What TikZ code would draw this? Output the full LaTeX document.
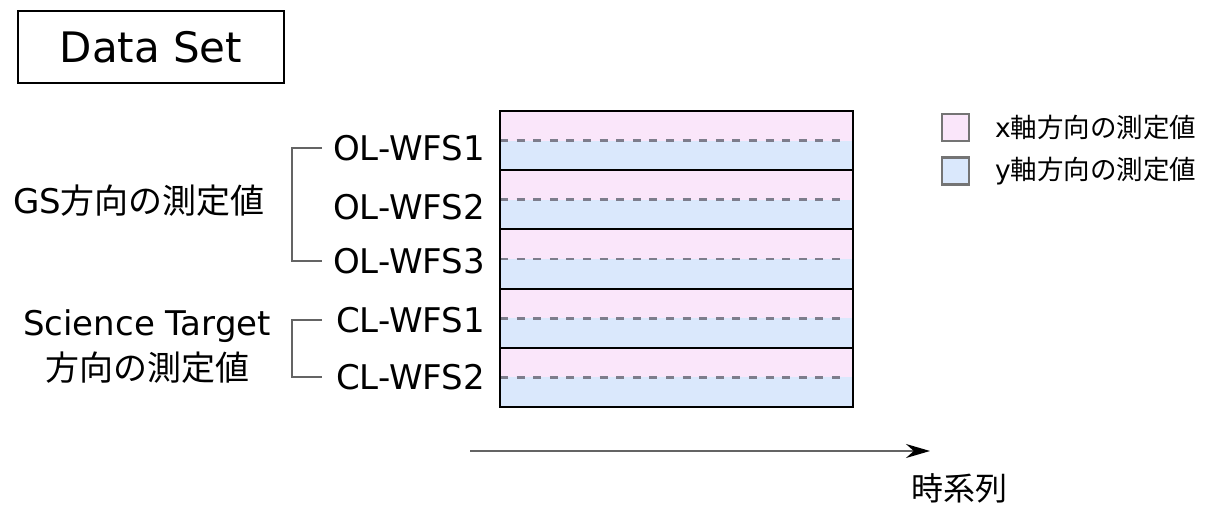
\documentclass[tikz,border=0pt]{standalone}
\usepackage{fontspec}
\setmainfont{DejaVu Sans}
\newfontfamily\jp{Noto Sans CJK JP}
\usetikzlibrary{arrows.meta}
\definecolor{xpink}{RGB}{250,230,250}
\definecolor{yblue}{RGB}{218,232,252}
\definecolor{dashgray}{RGB}{125,125,140}
\definecolor{brgray}{RGB}{100,100,100}

\begin{document}
\begin{tikzpicture}[x=1pt, y=-1pt,
        wfs/.style = {anchor=east, inner sep=2pt, font=\fontsize{34}{40}\selectfont},
        group/.style = {align=center, inner sep=2pt, font=\fontsize{34}{45}\selectfont},
        legend/.style = {anchor=west, inner sep=0pt, font=\fontsize{26.5}{30}\selectfont},
        keybox/.style = {draw=brgray!90, line width=2.2pt, minimum size=27pt, inner sep=0pt},
        bracket/.style = {draw=brgray, line width=2pt}
        ]
    \useasboundingbox (0,0) rectangle (1218,505);

    \node[draw, line width=1.5pt, minimum width=266pt, minimum height=72pt,
          font=\fontsize{42}{48}\selectfont] (title) at (151,47) {Data Set};

    % one row per sensor: x on top, y below
    \foreach \i in {0,...,4} {
        \fill[xpink] (500,111+59.2*\i) rectangle (853,140.6+59.2*\i);
        \fill[yblue] (500,140.6+59.2*\i) rectangle (853,170.2+59.2*\i);
        \draw[dashgray, line width=2.6pt, dash pattern=on 8pt off 8.6pt]
            (500,140.6+59.2*\i) -- (846,140.6+59.2*\i);
        \draw[line width=2pt] (500,111+59.2*\i) rectangle (853,170.2+59.2*\i);
    }

    \node[wfs] (ol1) at (487,148) {OL-WFS1};
    \node[wfs] (ol2) at (487,207) {OL-WFS2};
    \node[wfs] (ol3) at (487,261) {OL-WFS3};
    \node[wfs] (cl1) at (487,320) {CL-WFS1};
    \node[wfs] (cl2) at (487,377) {CL-WFS2};

    % brackets grouping the sensors
    \coordinate (spine) at (292,0);
    \coordinate (tick) at (322,0);
    \draw[bracket] (ol1.west -| tick) -- (ol1.west -| spine) |- (ol3.west -| tick);
    \draw[bracket] (cl1.west -| tick) -- (cl1.west -| spine) |- (cl2.west -| tick);

    \node[group] (gs) at (139,201) {GS{\jp 方向の測定値}};
    \node[group] (sci) at (147,347) {Science Target\\{\jp 方向の測定値}};

    % legend
    \node[keybox, fill=xpink] (xkey) at (955.5,127.5) {};
    \node[keybox, fill=yblue] (ykey) at (955.5,171) {};
    \node[legend] (xtext) at (995,127) {x{\jp 軸方向の測定値}};
    \node[legend] (ytext) at (995,171) {y{\jp 軸方向の測定値}};

    % time axis
    \coordinate (t0) at (470,451);
    \coordinate (t1) at (930,451);
    \draw[brgray, line width=2pt, -{Stealth[length=24pt, width=14pt, color=black]}] (t0) -- (t1);
    \node[font=\fontsize{32}{36}\selectfont\jp] (time) at (959,488) {時系列};
\end{tikzpicture}
\end{document}
